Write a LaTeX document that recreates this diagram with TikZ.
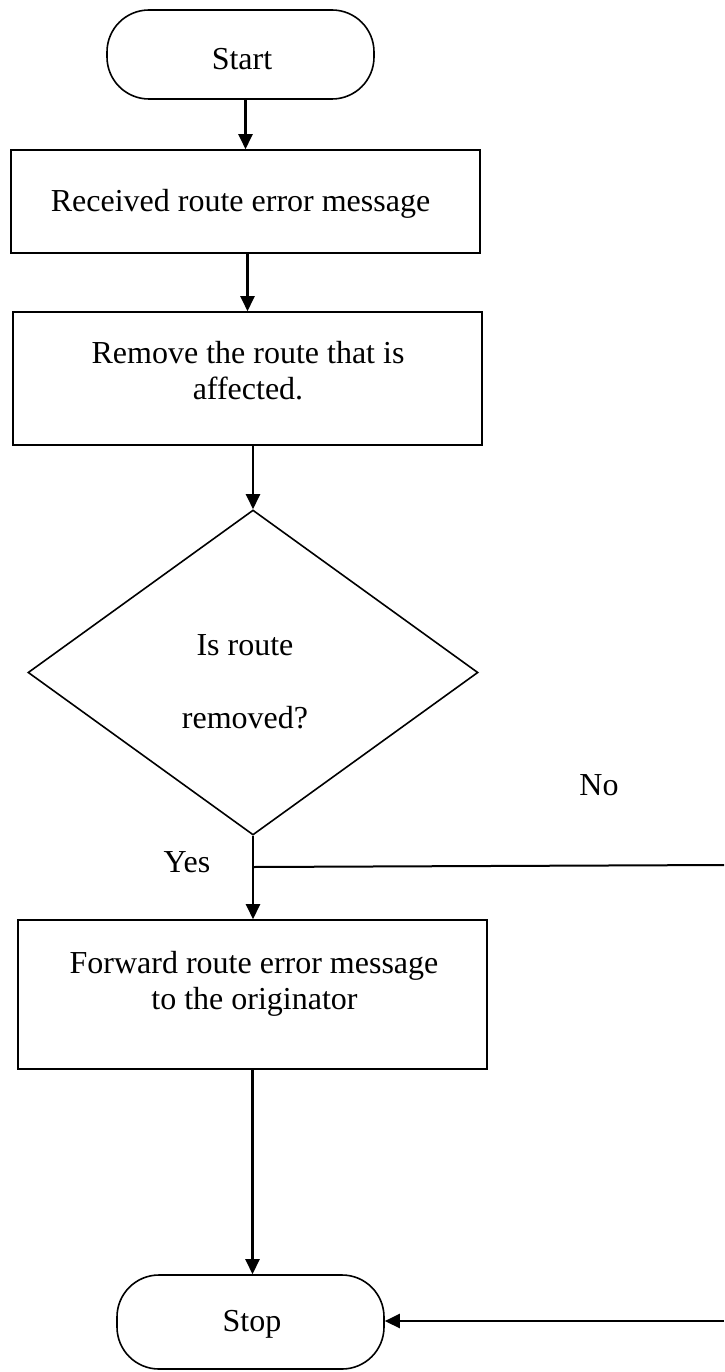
\documentclass[tikz,border=0pt]{standalone}
\usepackage{fontspec}
\setmainfont{Liberation Serif}
\usetikzlibrary{arrows.meta,shapes.geometric}
\begin{document}
\begin{tikzpicture}[x=1pt,y=-1pt,
 boxst/.style={draw, line width=1.6pt, inner sep=0pt, rectangle},
 term/.style={draw, line width=1.6pt, rounded corners=42pt, inner sep=0pt, rectangle},
 decst/.style={draw, diamond, line width=1.6pt, inner sep=0pt},
 lbl/.style={anchor=base, inner sep=0pt, font=\fontsize{32}{36}\selectfont},
 arr/.style={line width=2.4pt, -{Triangle[length=15pt,width=14pt]}},
 conn/.style={line width=2pt}]
\useasboundingbox (0,0) rectangle (724,1372);
\fill[white] (0,0) rectangle (724,1372);

% shapes
\node[term, minimum width=267pt, minimum height=89pt] (start) at (240.5,54.5) {};
\node[boxst, minimum width=469pt, minimum height=103pt] (box1) at (245.5,201.5) {};
\node[boxst, minimum width=469pt, minimum height=133pt] (box2) at (247.5,378.5) {};
\node[decst, minimum width=450pt, minimum height=325pt] (dec) at (253,672.5) {};
\node[boxst, minimum width=469pt, minimum height=149pt] (box3) at (252.5,994.5) {};
\node[term, minimum width=267pt, minimum height=94pt] (stop) at (250.5,1322) {};

% texts
\node[lbl] (tstart) at (242,70) {Start};
\node[lbl] (tbox1) at (240.5,212) {Received route error message};
\node[lbl] (tbox2a) at (248,363) {Remove the route that is};
\node[lbl] (tbox2b) at (248,399) {affected.};
\node[lbl] (tdeca) at (245,655) {Is route};
\node[lbl] (tdecb) at (245,728) {removed?};
\node[lbl] (tyes) at (187,872) {Yes};
\node[lbl] (tno) at (599,795) {No};
\node[lbl] (tbox3a) at (254,973) {Forward route error message};
\node[lbl] (tbox3b) at (254.5,1009) {to the originator};
\node[lbl] (tstop) at (252,1331) {Stop};

% connector points
\coordinate (yesj) at (253,867);
\coordinate (noR) at (724,865);
\coordinate (noB) at (724,1321);

% connectors
\draw[arr] (start.south -| box1.north) -- (box1.north);
\draw[arr] (box1.south -| box2.north) -- (box2.north);
\draw[arr] (box2.south -| dec.north) -- (dec.north);
\draw[arr] (dec.south) -- (dec.south |- box3.north);
\draw[conn] (yesj) -- (noR);
\draw[arr] (box3.south) -- (box3.south |- stop.north);
\draw[arr] (noB) -- (stop.east |- noB);
\end{tikzpicture}
\end{document}
